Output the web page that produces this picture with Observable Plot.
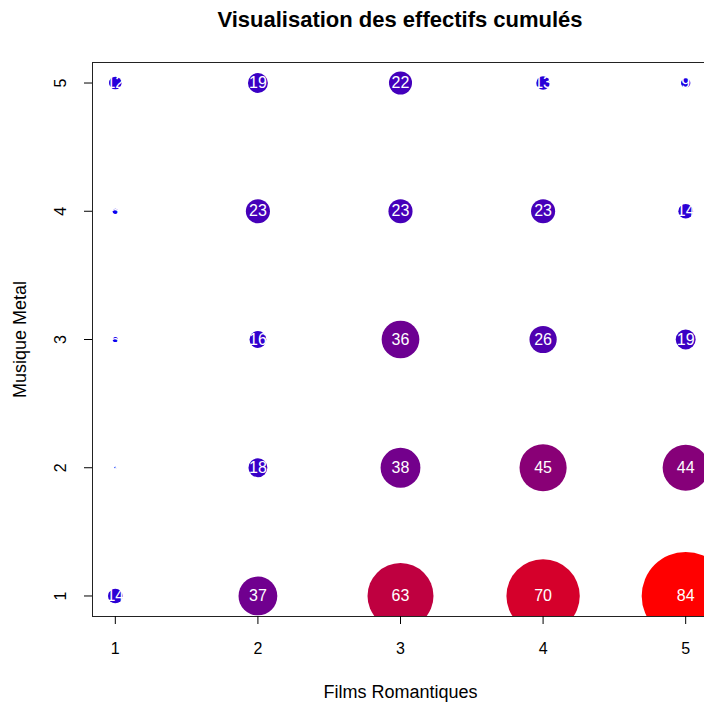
<!DOCTYPE html>
<html><head><meta charset="utf-8">
<script src="https://cdn.jsdelivr.net/npm/d3@7"></script>
<script src="https://cdn.jsdelivr.net/npm/@observablehq/plot@0.6"></script>
<style>
html,body{margin:0;padding:0;background:#fff;overflow:hidden;width:704px;height:704px}
#title{height:40px;width:708px;position:relative;font-family:"Liberation Sans",Arial,sans-serif;font-weight:bold;font-size:22px;color:#000}
#title span{position:absolute;left:400px;top:20px;transform:translate(-50%,-50%);white-space:nowrap}
#chart svg{display:block;max-width:none !important}
</style></head>
<body>
<div id="title"><span>Visualisation des effectifs cumulés</span></div>
<div id="chart"></div>
<script>
// Films Romantiques (x) and Musique Metal (y) levels
const films = [1, 2, 3, 4, 5];
const metal = [1, 2, 3, 4, 5];
// cumulated counts, one array per Musique Metal level, ordered by Films Romantiques 1..5
const metal1 = [14, 37, 63, 70, 84];
const metal2 = [2, 18, 38, 45, 44];
const metal3 = [5, 16, 36, 26, 19];
const metal4 = [5, 23, 23, 23, 14];
const metal5 = [12, 19, 22, 13, 9];
const rows = [metal1, metal2, metal3, metal4, metal5];

const data = [];
rows.forEach((row, i) => row.forEach((n, j) => data.push({film: films[j], metal: metal[i], n})));

const chart = Plot.plot({
  width: 708, height: 664,
  marginLeft: 92, marginRight: 0, marginTop: 22, marginBottom: 88,
  style: {fontFamily: "Liberation Sans, Arial, sans-serif", fontSize: "16px", color: "black", background: "white", maxWidth: "none"},
  x: {domain: [0.84, 5.16], label: null},
  y: {domain: [0.84, 5.16], label: null},
  r: {type: "linear", domain: [0, 84], range: [0, 44]},
  color: {type: "linear", domain: [0, 84], range: ["#0000ff", "#ff0000"], interpolate: "rgb"},
  marks: [
    Plot.dot(data, {x: "film", y: "metal", r: "n", fill: "n", stroke: null, clip: "frame"}),
    Plot.text(data, {x: "film", y: "metal", text: d => String(d.n), fill: "white", fontSize: 16, clip: "frame"}),
    Plot.frame({stroke: "#222"}),
    Plot.axisX(films, {tickSize: 8, tickPadding: 18, fontSize: 16, label: null, tickFormat: d => String(d)}),
    Plot.axisY(metal, {tickSize: 8, tickFormat: () => "", label: null}),
    Plot.text(metal, {y: d => d, text: d => String(d), frameAnchor: "left", dx: -32, rotate: -90, textAnchor: "middle", lineAnchor: "middle", fontSize: 16}),
    Plot.text(["Films Romantiques"], {frameAnchor: "bottom", dy: 76, textAnchor: "middle", lineAnchor: "middle", fontSize: 18}),
    Plot.text(["Musique Metal"], {frameAnchor: "left", dx: -72, rotate: -90, textAnchor: "middle", lineAnchor: "middle", fontSize: 18})
  ]
});
document.getElementById("chart").appendChild(chart);
</script>
</body></html>
